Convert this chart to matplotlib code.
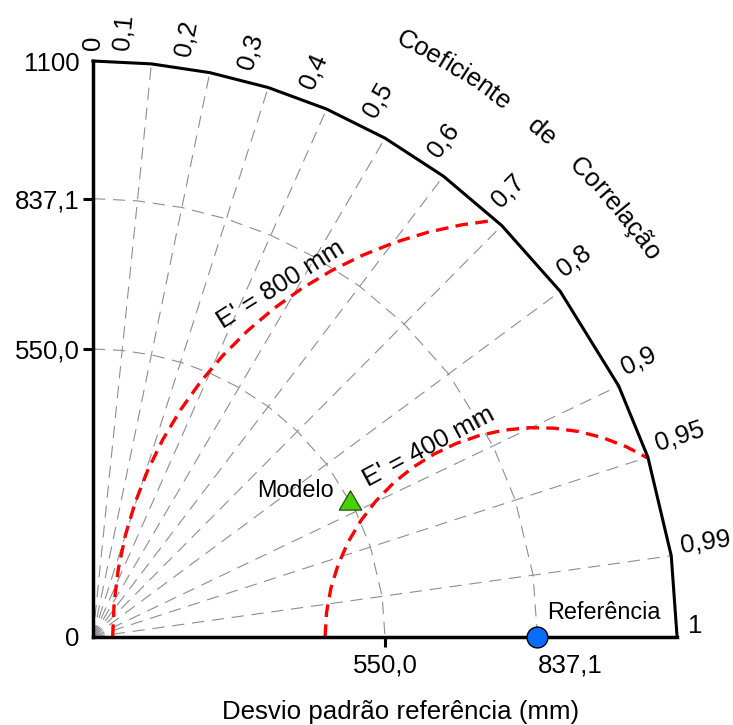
import numpy as np
import matplotlib
matplotlib.use('Agg')
import matplotlib.pyplot as plt
from matplotlib.font_manager import FontProperties, findfont, get_font

plt.rcParams['font.family'] = ['Liberation Sans', 'DejaVu Sans']

# ---------------- data ----------------
max_sd = 1100.0
ref_sd = 837.1
model_sd = 550.0
model_corr = 0.88
corr_ticks = [0.0, 0.1, 0.2, 0.3, 0.4, 0.5, 0.6, 0.7, 0.8, 0.9, 0.95, 0.99, 1.0]
corr_labels = ['0', '0,1', '0,2', '0,3', '0,4', '0,5', '0,6', '0,7', '0,8',
               '0,9', '0,95', '0,99', '1']
rmsd_levels = [400.0, 800.0]
rmsd_labels = ["E' = 400 mm", "E' = 800 mm"]
sd_arcs = [550.0, 837.1]
y_ticks = [0.0, 550.0, 837.1, 1100.0]
y_ticklabels = ['0', '550,0', '837,1', '1100']
x_ticks = [550.0, 837.1]
x_ticklabels = ['550,0', '837,1']
title_words = ['Coeficiente', 'de', 'Correlação']

# ---------------- style ----------------
GRAY = '#8e8e8e'
FS = 18.6

fig = plt.figure(figsize=(7.33, 7.25), dpi=100)
ax = fig.add_axes([0, 0, 1, 1])
xl = (-175.1, 1205.3)
yl = (-168.1, 1216.5)
ax.set_xlim(*xl)
ax.set_ylim(*yl)
sx = 733 / (xl[1] - xl[0])
sy = 725 / (yl[1] - yl[0])

th = np.arccos(np.array(corr_ticks))

# outer rim
ax.plot(max_sd * np.cos(th), max_sd * np.sin(th), color='k', lw=2.2,
        solid_joinstyle='miter', zorder=3, clip_on=False)

# grey std arcs
for r in sd_arcs:
    ax.plot(r * np.cos(th), r * np.sin(th), color=GRAY, lw=0.8,
            dashes=(11, 7), zorder=1)

# grey radial lines
for t in th[1:-1]:
    ax.plot([0, max_sd * np.cos(t)], [0, max_sd * np.sin(t)], color=GRAY,
            lw=0.8, dashes=(11, 7), zorder=1)

# red RMSD arcs
for E in rmsd_levels:
    xi = (max_sd ** 2 - E ** 2 + ref_sd ** 2) / (2 * ref_sd)
    phi_end = np.arctan2(np.sqrt(E ** 2 - (xi - ref_sd) ** 2), xi - ref_sd)
    phis = np.linspace(np.pi, phi_end, 19)
    ax.plot(ref_sd + E * np.cos(phis), E * np.sin(phis), color='#ff0000',
            lw=2.4, dashes=(3.8, 2.2), zorder=2)

# RMSD labels
lab_phi = [119.5, 125.66]
lab_pad = [17, 29]
lab_rot = [28, 32]
for E, lab, ph, pd, rot in zip(rmsd_levels, rmsd_labels, lab_phi, lab_pad, lab_rot):
    p = np.deg2rad(ph)
    ax.text(ref_sd + (E + pd) * np.cos(p), (E + pd) * np.sin(p), lab,
            rotation=rot, rotation_mode='anchor', ha='center', va='center',
            fontsize=FS, zorder=4)

# points
ax.plot(ref_sd, 0, 'o', ms=15, mfc='#0a6cff', mec='k', mew=1.0, zorder=6,
        clip_on=False)
mx = model_sd * model_corr
my = model_sd * np.sqrt(1 - model_corr ** 2)
tri = [(-1, -0.85), (1, -0.85), (0, 0.85), (-1, -0.85)]
ax.plot(mx, my, marker=tri, ms=16.3, mfc='#47d100', mec='#1d3d10', mew=0.8,
        ls='none', zorder=6)
ax.annotate('Modelo', xy=(mx, my), xytext=(-12, 7), textcoords='offset points',
            ha='right', va='center', fontsize=16.8)
ax.annotate('Referência', xy=(ref_sd, 0), xytext=(7, 13),
            textcoords='offset points', ha='left', va='baseline', fontsize=16.8)

# correlation labels
perp_px = [0, 31, 30, 28, 27, 25, 22, 20, 16, 14, 10, 9, 11]
r0 = 1121.0
for c, lab, off in zip(corr_ticks, corr_labels, perp_px):
    t = np.arccos(c)
    deg = np.degrees(t)
    opt = off * 0.72
    ax.annotate(lab, xy=(r0 * np.cos(t), r0 * np.sin(t)),
                xytext=(-opt * np.sin(t), opt * np.cos(t)),
                textcoords='offset points', rotation=deg,
                rotation_mode='anchor', ha='left', va='center', fontsize=FS,
                annotation_clip=False)

# curved title
fp = FontProperties(family='Liberation Sans', size=FS)
font = get_font(findfont(fp))
font.set_size(FS, 100)
title = '    '.join(title_words)
adv = []
for ch in title:
    g = font.load_char(ord(ch))
    adv.append(g.linearHoriAdvance / 65536.0)
adv = np.array(adv)
centers = np.cumsum(adv) - adv / 2.0
span = centers[-1] - centers[0]
Rt = 1282.0
mid_ang = np.deg2rad(48.85)
Rpx = Rt * 0.5 * (sx + sy)
for ch, s in zip(title, centers):
    if ch == ' ':
        continue
    a = mid_ang + (span / 2.0 - (s - centers[0])) / Rpx
    ax.text(Rt * np.cos(a), Rt * np.sin(a), ch, rotation=np.degrees(a) - 90,
            rotation_mode='anchor', ha='center', va='center', fontsize=FS)

# axes spines and ticks
for s in ['top', 'right']:
    ax.spines[s].set_visible(False)
for s in ['left', 'bottom']:
    ax.spines[s].set_position(('data', 0))
    ax.spines[s].set_bounds(0, max_sd)
    ax.spines[s].set_linewidth(2.5)
    ax.spines[s].set_capstyle('projecting')
    ax.spines[s].set_zorder(5)
ax.set_yticks(y_ticks, y_ticklabels)
ax.set_xticks(x_ticks, x_ticklabels)
ax.tick_params(axis='both', direction='out', length=7.2, width=2.2,
               labelsize=FS)
ax.tick_params(axis='y', pad=2.5)
ax.tick_params(axis='x', pad=5)
yt = ax.yaxis.get_major_ticks()
yt[0].tick1line.set_visible(False)
yt[-1].tick1line.set_visible(False)
ax.get_xticklabels()[1].set_horizontalalignment('left')
ax.set_facecolor('white')

fig.text(400.5 / 733, 1 - 719.0 / 725, 'Desvio padrão referência (mm)',
         ha='center', va='baseline', fontsize=FS)

fig.savefig('out.png', dpi=100)
